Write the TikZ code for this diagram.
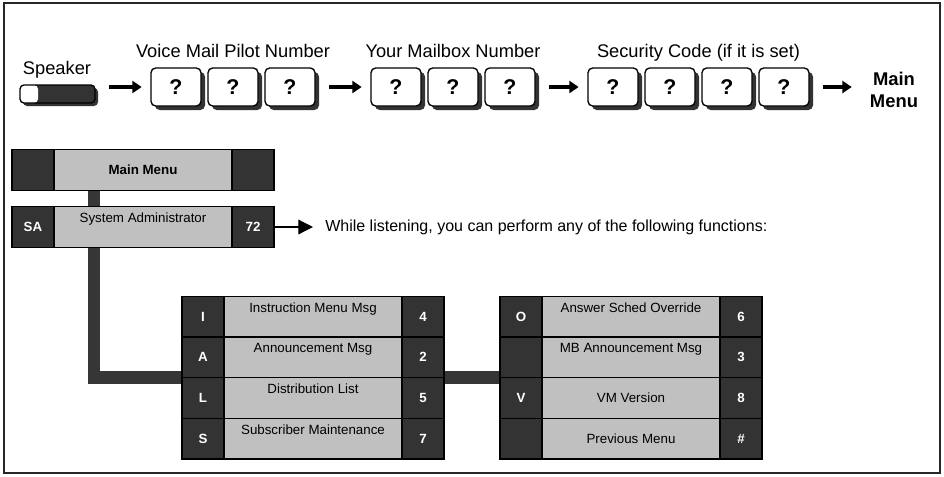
\documentclass[tikz,border=0pt]{standalone}
\usepackage{fontspec}
\setmainfont{Liberation Sans}
\usetikzlibrary{positioning, arrows.meta, shadows, backgrounds}
\definecolor{dk}{HTML}{333333}
\definecolor{lt}{HTML}{C0C0C0}
\definecolor{barc}{HTML}{363636}

\begin{document}
\begin{tikzpicture}[
  x=0.75pt, y=-0.75pt,
  frame/.style={draw=black!85, line width=1.5pt},
  lbl/.style={font=\fontsize{13.7}{16}\selectfont, inner sep=0pt, anchor=base},
  key/.style={draw, line width=1pt, fill=white, rounded corners=3.5pt,
    minimum width=37.5pt, minimum height=28.5pt, inner sep=0pt,
    font=\fontsize{16}{18}\selectfont\bfseries,
    drop shadow={shadow xshift=3pt, shadow yshift=-3pt, fill=dk, opacity=1}},
  flow/.style={line width=2.4pt, -{Triangle[length=7pt, width=9pt]},
    shorten <=10pt, shorten >=6.5pt},
  ptr/.style={line width=0.9pt, -{Triangle[length=11pt, width=11pt]}},
  cell/.style={draw=black, line width=0.9pt, outer sep=0pt, inner sep=0pt,
    minimum height=30.5pt, font=\fontsize{10}{12}\selectfont},
  dkc/.style={cell, fill=dk, text=white, minimum width=31.5pt,
    font=\fontsize{10}{12}\selectfont\bfseries},
  ltc/.style={cell, fill=lt, minimum width=133.5pt},
  ctxt/.style={font=\fontsize{10}{12}\selectfont, inner sep=4.5pt},
  bar/.style={draw=barc, line width=9.5pt},
]
\useasboundingbox (0,0) rectangle (944,476);
\draw[frame] (4,3) rectangle (940,473);

% ---------- log-in sequence ----------
\node[lbl] (spklbl) at (57,74) {Speaker};
\node[draw, line width=1pt, fill=dk, rounded corners=3pt, inner sep=0pt,
  minimum width=56.25pt, minimum height=13.5pt,
  drop shadow={shadow xshift=2.25pt, shadow yshift=-2.25pt, fill=dk, opacity=1},
  path picture={\fill[white] (path picture bounding box.south west)
    rectangle ([xshift=13.5pt]path picture bounding box.north west);}]
  (spk) at (57.5,94) {};

\node[lbl] (vmlbl) at (233,57) {Voice Mail Pilot Number};
\node[lbl] (mblbl) at (453,57) {Your Mailbox Number};
\node[lbl] (sclbl) at (698.5,57) {Security Code (if it is set)};

\foreach \i/\x in {1/176,2/233,3/290}
  \node[key] (vm\i) at (\x,87) {?};
\foreach \i/\x in {1/396,2/453,3/510}
  \node[key] (mb\i) at (\x,87) {?};
\foreach \i/\x in {1/613,2/670,3/727,4/784}
  \node[key] (sc\i) at (\x,87) {?};

\node[font=\fontsize{13.8}{17}\selectfont\bfseries, align=center, inner sep=0pt]
  (endmenu) at (894,90) {Main\\Menu};

\draw[flow] (spk.east |- vm1.west) -- (vm1.west);
\draw[flow] (vm3.east) -- (mb1.west);
\draw[flow] (mb3.east) -- (sc1.west);
\draw[flow, shorten >=13.5pt] (sc4.east) -- (endmenu.west |- sc4.east);

% ---------- menu ----------
\node[ltc, font=\fontsize{10}{12}\selectfont\bfseries] (mm) at (143,170) {Main Menu};
\node[dkc, left=0pt of mm] (mmk) {};
\node[dkc, right=0pt of mm] (mmn) {};

\node[ltc] (sa) at (143,227) {};
\node[dkc, left=0pt of sa] (sak) {SA};
\node[dkc, right=0pt of sa] (san) {72};
\node[ctxt, anchor=north] (sat) at (sa.north) {System Administrator};

\node[font=\fontsize{12}{14}\selectfont, inner sep=0pt, anchor=west] (note) at (325,227)
  {While listening, you can perform any of the following functions:};
\draw[ptr, shorten >=9pt] (san.east) -- (note.west);

% row, key, text, digit, text anchor
\foreach \r/\k/\txt/\n/\an in {
  0/I/{Instruction Menu Msg}/4/north,
  1/A/{Announcement Msg}/2/north,
  2/L/{Distribution List}/5/north,
  3/S/{Subscriber Maintenance}/7/north}
{
  \node[ltc] (Lm\r) at (313,{316.5+40.75*\r}) {};
  \node[dkc, left=0pt of Lm\r] (Lk\r) {\k};
  \node[dkc, right=0pt of Lm\r] (Ln\r) {\n};
  \node[ctxt, anchor=\an] (Lt\r) at (Lm\r.\an) {\txt};
}

\foreach \r/\k/\txt/\n/\an in {
  0/O/{Answer Sched Override}/6/north,
  1/{}/{MB Announcement Msg}/3/north,
  2/V/{VM Version}/8/center,
  3/{}/{Previous Menu}/\#/center}
{
  \node[ltc] (Rm\r) at (631,{316.5+40.75*\r}) {};
  \node[dkc, left=0pt of Rm\r] (Rk\r) {\k};
  \node[dkc, right=0pt of Rm\r] (Rn\r) {\n};
  \node[ctxt, anchor=\an] (Rt\r) at (Rm\r.\an) {\txt};
}

% links between menus
\begin{pgfonlayer}{background}
  \draw[bar] ([xshift=30pt]mm.south west) -- ([xshift=30pt]sa.north west);
  \draw[bar] ([xshift=30pt]sa.south west) |- (Lk1.south west);
  \draw[bar] (Ln1.south east) -- (Rk1.south west);
\end{pgfonlayer}

\end{tikzpicture}
\end{document}
